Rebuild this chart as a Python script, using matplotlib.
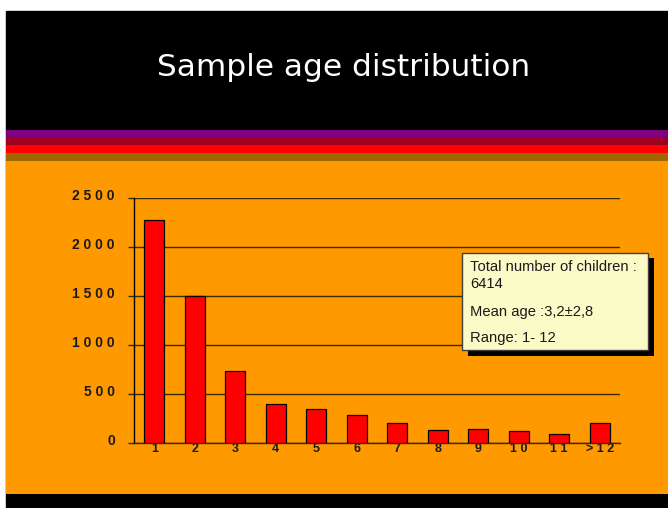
import matplotlib
matplotlib.use('Agg')
import matplotlib.pyplot as plt
from matplotlib.patches import Rectangle
from matplotlib.transforms import ScaledTranslation

plt.rcParams['font.family'] = ['Liberation Sans', 'DejaVu Sans']

# children per age group
ages = ['1', '2', '3', '4', '5', '6', '7', '8', '9', '1 0', '1 1', '> 1 2']
counts = [2270, 1500, 735, 395, 345, 280, 205, 130, 140, 115, 90, 205]
y_ticks = [0, 500, 1000, 1500, 2000, 2500]
y_tick_labels = ['0', '5 0 0', '1 0 0 0', '1 5 0 0', '2 0 0 0', '2 5 0 0']

title = 'Sample age distribution'
info_lines = ['Total number of children :', '6414', 'Mean age :3,2\u00b12,8', 'Range: 1- 12']

W, H = 668, 508
fig = plt.figure(figsize=(W / 100, H / 100), dpi=100, facecolor='white')


def pixel_axes(zorder):
    a = fig.add_axes([0, 0, 1, 1], zorder=zorder)
    a.set_xlim(0, W)
    a.set_ylim(H, 0)
    a.axis('off')
    a.set_facecolor('none')
    return a


# slide background, in pixel units
bg = pixel_axes(0)
bg.add_patch(Rectangle((6, 11), W - 6, H - 11, color='black'))
stripes = [(130, 137.3, '#800080'), (137.3, 145, '#a00020'),
           (145, 153, '#ff0000'), (153, 161, '#a06600')]
for y0, y1, c in stripes:
    bg.add_patch(Rectangle((6, y0), W - 6, y1 - y0, color=c, lw=0))
bg.add_patch(Rectangle((6, 161), W - 6, 494 - 161, color='#ff9900', lw=0))

bg.text(344, 76, title, color='white', fontsize=22.5, family='DejaVu Sans',
        ha='center', va='baseline')

# bar chart
left, right, top, bottom = 134, 620, 197.7, 442.7
ax = fig.add_axes([left / W, 1 - bottom / H, (right - left) / W, (bottom - top) / H], zorder=1)
ax.set_facecolor('none')
x = list(range(len(ages)))
ax.bar(x, counts, width=0.5, color='#ff0000', edgecolor='black', linewidth=0.9, zorder=3)
ax.set_xlim(-0.5, len(ages) - 0.5)
ax.set_ylim(0, 2500)

grid_color = '#3d2800'
ax.set_yticks(y_ticks)
ax.set_yticklabels(y_tick_labels, fontsize=10, fontweight='bold', color='#1a1a1a')
ax.yaxis.grid(True, color=grid_color, linewidth=1, zorder=1)
ax.tick_params(axis='y', length=4.3, width=1, color=grid_color, pad=9.4)
ax.set_xticks(x)
ax.set_xticklabels(ages, fontsize=9, fontweight='bold', color='#1a1a1a')
ax.tick_params(axis='x', length=0, pad=0.5)

for s in ['top', 'right']:
    ax.spines[s].set_visible(False)
ax.spines['left'].set_color('black')
ax.spines['left'].set_linewidth(1)
ax.spines['bottom'].set_color(grid_color)
ax.spines['bottom'].set_linewidth(1)

shift = ScaledTranslation(0, 3 / 100, fig.dpi_scale_trans)
for lbl in ax.get_yticklabels():
    lbl.set_transform(lbl.get_transform() + shift)

# info box with drop shadow, above the chart
fg = pixel_axes(2)
fg.add_patch(Rectangle((468, 258), 186, 98, color='black', lw=0))
fg.add_patch(Rectangle((462.3, 252.7), 186, 97.3, facecolor='#fbfbc8',
                       edgecolor='#404040', lw=1))
for txt, yb in zip(info_lines, [270.7, 288.3, 316, 341.7]):
    fg.text(470, yb, txt, fontsize=10.6, color='#1a1a1a', ha='left', va='baseline')

fig.savefig('out.png', dpi=100, facecolor='white')
